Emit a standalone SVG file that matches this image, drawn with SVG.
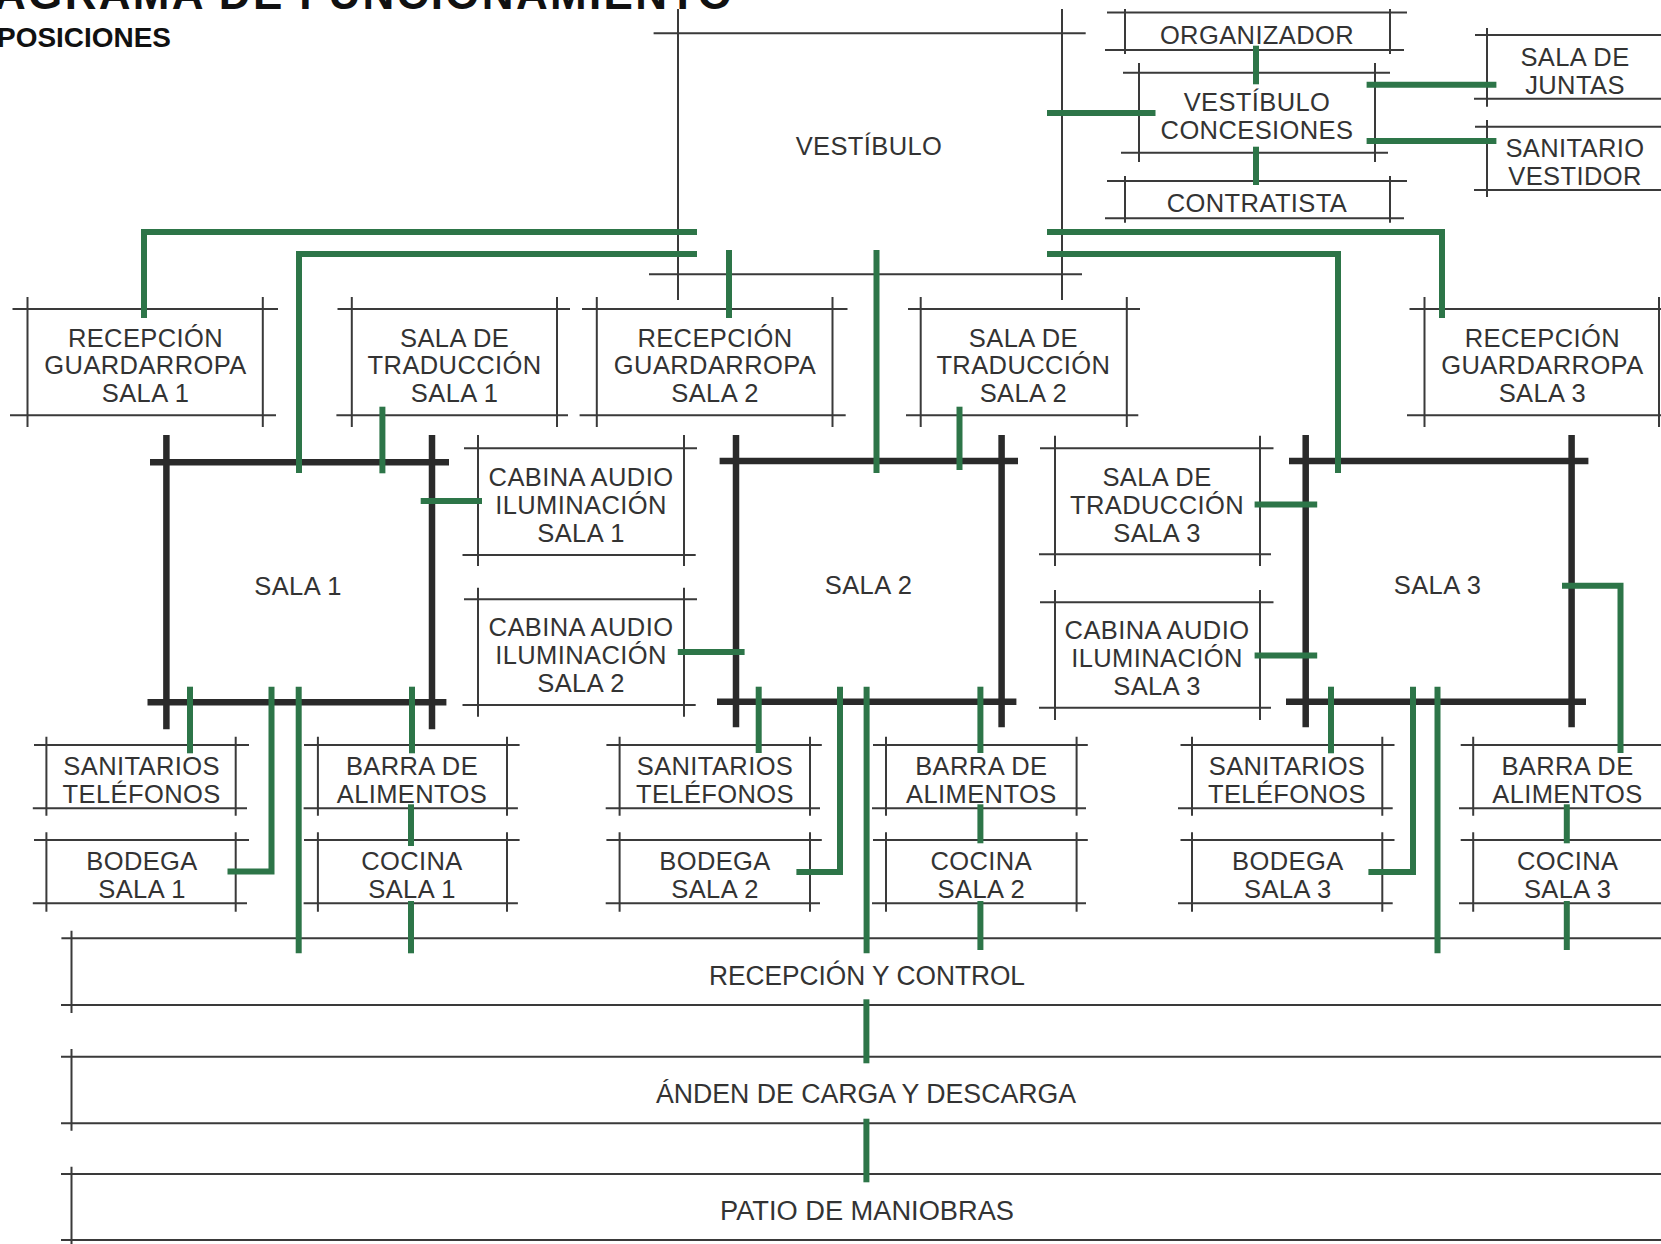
<svg xmlns="http://www.w3.org/2000/svg" width="1661" height="1244" viewBox="0 0 1661 1244">
<style>
.bg{fill:#ffffff}
.thin{stroke:#3a3a3a;stroke-width:2;fill:none}
.wall{stroke:#2a2a2a;stroke-width:6.5;fill:none}
.conn{stroke:#2d7548;stroke-width:6;fill:none;stroke-linecap:butt;stroke-linejoin:miter}
.lbl{font-family:"Liberation Sans",Arial,sans-serif;font-size:25.5px;letter-spacing:0.4px;fill:#333333;text-anchor:middle}
.band{font-family:"Liberation Sans",Arial,sans-serif;font-size:27px;fill:#333333}
.title{font-family:"Liberation Sans",Arial,sans-serif;font-weight:bold;fill:#111111}
</style>
<rect class="bg" x="0" y="0" width="1661" height="1244"/>

<g id="title">
<text class="title" x="-6" y="9" font-size="44" textLength="738" lengthAdjust="spacing">AGRAMA DE FUNCIONAMIENTO</text>
<text class="title" x="-3" y="47" font-size="28" textLength="174" lengthAdjust="spacingAndGlyphs">POSICIONES</text>
</g>

<g id="vestibulo">
<path class="thin" d="M653.6,33.3H1085.7M649,274.3H1082M678,9V300M1062,9V300"/>
<text class="lbl" x="869" y="155">VESTÍBULO</text>
</g>

<g id="organizador">
<path class="thin" d="M1107,12.5H1407M1105,50H1404M1125,9V54M1390,9V54"/>
<text class="lbl" x="1257" y="44">ORGANIZADOR</text>
</g>

<g id="vestibulo-concesiones">
<path class="thin" d="M1123,72.7H1390M1121,152.7H1388M1139,63V162M1375,63V162"/>
<text class="lbl" x="1257" y="111">VESTÍBULO</text>
<text class="lbl" x="1257" y="139">CONCESIONES</text>
</g>

<g id="contratista">
<path class="thin" d="M1107,181H1407M1105,218.3H1404M1125,176V222.7M1390,176V222.7"/>
<text class="lbl" x="1257" y="212.3">CONTRATISTA</text>
</g>

<g id="sala-juntas">
<path class="thin" d="M1475,35H1661M1474,98.7H1661M1487,28V106.7"/>
<text class="lbl" x="1575" y="65.5">SALA DE</text>
<text class="lbl" x="1575" y="93.5">JUNTAS</text>
</g>

<g id="sanitario-vestidor">
<path class="thin" d="M1475,126.7H1661M1474,190H1661M1487,120V197"/>
<text class="lbl" x="1575" y="156.7">SANITARIO</text>
<text class="lbl" x="1575" y="185">VESTIDOR</text>
</g>

<g id="recepcion-sala1">
<path class="thin" d="M12.5,309H278M10,415.3H276M27.5,297V427M262.8,297V427"/>
<text class="lbl" x="145.5" y="346.5">RECEPCIÓN</text>
<text class="lbl" x="145.5" y="374.3">GUARDARROPA</text>
<text class="lbl" x="145.5" y="402">SALA 1</text>
</g>

<g id="traduccion-sala1">
<path class="thin" d="M337.5,309H570M336.4,415.3H568M351.8,297V427M557,297V427"/>
<text class="lbl" x="454.6" y="346.5">SALA DE</text>
<text class="lbl" x="454.6" y="374.3">TRADUCCIÓN</text>
<text class="lbl" x="454.6" y="402">SALA 1</text>
</g>

<g id="recepcion-sala2">
<path class="thin" d="M582,309H847.5M579.6,415.3H845.7M596.8,297V427M832.5,297V427"/>
<text class="lbl" x="715" y="346.5">RECEPCIÓN</text>
<text class="lbl" x="715" y="374.3">GUARDARROPA</text>
<text class="lbl" x="715" y="402">SALA 2</text>
</g>

<g id="traduccion-sala2">
<path class="thin" d="M908,309H1140M906,415.3H1138.3M920.7,297V427M1126.8,297V427"/>
<text class="lbl" x="1023.4" y="346.5">SALA DE</text>
<text class="lbl" x="1023.4" y="374.3">TRADUCCIÓN</text>
<text class="lbl" x="1023.4" y="402">SALA 2</text>
</g>

<g id="recepcion-sala3">
<path class="thin" d="M1409.5,309H1661M1407,415.3H1661M1424.5,297V427M1659,297V427"/>
<text class="lbl" x="1542.4" y="346.5">RECEPCIÓN</text>
<text class="lbl" x="1542.4" y="374.3">GUARDARROPA</text>
<text class="lbl" x="1542.4" y="402">SALA 3</text>
</g>

<g id="cabina-sala1">
<path class="thin" d="M464,448.3H697M462.5,555H695.7M478,435V566M684,435V566"/>
<text class="lbl" x="581" y="486" letter-spacing="0">CABINA AUDIO</text>
<text class="lbl" x="581" y="513.8">ILUMINACIÓN</text>
<text class="lbl" x="581" y="541.5">SALA 1</text>
</g>

<g id="cabina-sala2">
<path class="thin" d="M464,599.3H697M462.5,705H695.7M478,587.7V716.7M684,587.7V716.7"/>
<text class="lbl" x="581" y="636" letter-spacing="0">CABINA AUDIO</text>
<text class="lbl" x="581" y="663.8">ILUMINACIÓN</text>
<text class="lbl" x="581" y="691.5">SALA 2</text>
</g>

<g id="traduccion-sala3">
<path class="thin" d="M1040,448.3H1273.5M1039,554.3H1271M1055,435.7V566M1260,435.7V566"/>
<text class="lbl" x="1157" y="486">SALA DE</text>
<text class="lbl" x="1157" y="513.8">TRADUCCIÓN</text>
<text class="lbl" x="1157" y="541.5">SALA 3</text>
</g>

<g id="cabina-sala3">
<path class="thin" d="M1040,602.3H1273.5M1039,707.7H1271M1055,590V720M1260,590V720"/>
<text class="lbl" x="1157" y="639.3" letter-spacing="0">CABINA AUDIO</text>
<text class="lbl" x="1157" y="667">ILUMINACIÓN</text>
<text class="lbl" x="1157" y="694.7">SALA 3</text>
</g>

<g id="sala1">
<path class="wall" d="M150,462.3H449M147.5,702.3H446.4M166.4,435V729.3M432,435V729.3"/>
<text class="lbl" x="298" y="595">SALA 1</text>
</g>

<g id="sala2">
<path class="wall" d="M719.6,461H1018M717,701.7H1016.4M736,435V727.3M1001.6,435V727.3"/>
<text class="lbl" x="868.5" y="594">SALA 2</text>
</g>

<g id="sala3">
<path class="wall" d="M1289,461H1588.4M1286,701.7H1586M1305.7,435V727.3M1571.6,435V727.3"/>
<text class="lbl" x="1437.5" y="594">SALA 3</text>
</g>

<g id="sanitarios-sala1">
<path class="thin" d="M34,745H249M32.8,808.3H247M46.4,736.7V815.7M235.7,736.7V815.7"/>
<text class="lbl" x="141.6" y="775">SANITARIOS</text>
<text class="lbl" x="141.6" y="802.7">TELÉFONOS</text>
</g>

<g id="bodega-sala1">
<path class="thin" d="M34,840H249M32.8,903.3H247M46.4,832.3V911.7M235.7,832.3V911.7"/>
<text class="lbl" x="142" y="870">BODEGA</text>
<text class="lbl" x="142" y="898">SALA 1</text>
</g>

<g id="barra-sala1">
<path class="thin" d="M304,745H519.6M303.6,808.3H517.9M317.9,736.7V815.7M507,736.7V815.7"/>
<text class="lbl" x="412" y="775">BARRA DE</text>
<text class="lbl" x="412" y="802.7">ALIMENTOS</text>
</g>

<g id="cocina-sala1">
<path class="thin" d="M304,840H519.6M303.6,903.3H517.9M317.9,832.3V911.7M507,832.3V911.7"/>
<text class="lbl" x="412" y="870">COCINA</text>
<text class="lbl" x="412" y="898">SALA 1</text>
</g>

<g id="sanitarios-sala2">
<path class="thin" d="M606.4,745H821.8M605.7,808.3H820M619.6,736.7V815.7M810,736.7V815.7"/>
<text class="lbl" x="715" y="775">SANITARIOS</text>
<text class="lbl" x="715" y="802.7">TELÉFONOS</text>
</g>

<g id="bodega-sala2">
<path class="thin" d="M606.4,840H821.8M605.7,903.3H820M619.6,832.3V911.7M810,832.3V911.7"/>
<text class="lbl" x="715" y="870">BODEGA</text>
<text class="lbl" x="715" y="898">SALA 2</text>
</g>

<g id="barra-sala2">
<path class="thin" d="M873,745H1087.8M872,808.3H1086M886,736.7V815.7M1076.6,736.7V815.7"/>
<text class="lbl" x="981.3" y="775">BARRA DE</text>
<text class="lbl" x="981.3" y="802.7">ALIMENTOS</text>
</g>

<g id="cocina-sala2">
<path class="thin" d="M873,840H1087.8M872,903.3H1086M886,832.3V911.7M1076.6,832.3V911.7"/>
<text class="lbl" x="981.3" y="870">COCINA</text>
<text class="lbl" x="981.3" y="898">SALA 2</text>
</g>

<g id="sanitarios-sala3">
<path class="thin" d="M1180.5,745H1394.5M1178,808.3H1392.7M1192,736.7V815.7M1382.3,736.7V815.7"/>
<text class="lbl" x="1287" y="775">SANITARIOS</text>
<text class="lbl" x="1287" y="802.7">TELÉFONOS</text>
</g>

<g id="bodega-sala3">
<path class="thin" d="M1180.5,840H1394.5M1178,903.3H1392.7M1192,832.3V911.7M1382.3,832.3V911.7"/>
<text class="lbl" x="1287.8" y="870">BODEGA</text>
<text class="lbl" x="1287.8" y="898">SALA 3</text>
</g>

<g id="barra-sala3">
<path class="thin" d="M1460.7,745H1661M1459,808.3H1661M1473.2,736.7V815.7"/>
<text class="lbl" x="1567.5" y="775">BARRA DE</text>
<text class="lbl" x="1567.5" y="802.7">ALIMENTOS</text>
</g>

<g id="cocina-sala3">
<path class="thin" d="M1460.7,840H1661M1459,903.3H1661M1473.2,832.3V911.7"/>
<text class="lbl" x="1567.7" y="870">COCINA</text>
<text class="lbl" x="1567.7" y="898">SALA 3</text>
</g>

<g id="recepcion-control">
<path class="thin" d="M61.4,938.3H1661M61,1005H1661M71.5,930.7V1013"/>
<text class="band" x="709" y="985" textLength="316" lengthAdjust="spacingAndGlyphs">RECEPCIÓN Y CONTROL</text>
</g>

<g id="anden">
<path class="thin" d="M61,1056.7H1661M61,1123.3H1661M71.5,1049V1130.7"/>
<text class="band" x="656" y="1103" textLength="420" lengthAdjust="spacingAndGlyphs">ÁNDEN DE CARGA Y DESCARGA</text>
</g>

<g id="patio">
<path class="thin" d="M61,1174H1661M61,1240H1661M71.5,1166.7V1244"/>
<text class="band" x="720" y="1220" textLength="294" lengthAdjust="spacingAndGlyphs">PATIO DE MANIOBRAS</text>
</g>

<g id="connectors">
<path class="conn" d="M697,232H144V318"/>
<path class="conn" d="M697,254H299V473"/>
<path class="conn" d="M729,250V318"/>
<path class="conn" d="M876.5,250V473"/>
<path class="conn" d="M1047,113H1155.5"/>
<path class="conn" d="M1047,232H1442V318"/>
<path class="conn" d="M1047,254H1338V473"/>
<path class="conn" d="M1256,45.7V84.3"/>
<path class="conn" d="M1256,146.7V185"/>
<path class="conn" d="M1366.6,84.7H1496.4"/>
<path class="conn" d="M1366.6,141H1496.4"/>
<path class="conn" d="M382.4,406.7V473.3"/>
<path class="conn" d="M959.5,406.7V470"/>
<path class="conn" d="M420.7,501H482"/>
<path class="conn" d="M677.8,652H744.6"/>
<path class="conn" d="M1254.6,504.5H1317.2"/>
<path class="conn" d="M1254.6,655.5H1317.2"/>
<path class="conn" d="M1562,585.7H1620.5V753"/>
<path class="conn" d="M190,686.7V753.3"/>
<path class="conn" d="M271.5,686.7V871.5H227.5"/>
<path class="conn" d="M298.7,686.7V953.3"/>
<path class="conn" d="M412,686.7V753.3"/>
<path class="conn" d="M411,804.3V846"/>
<path class="conn" d="M411,901V953.3"/>
<path class="conn" d="M758.7,686.7V753"/>
<path class="conn" d="M840,686.7V872H796.4"/>
<path class="conn" d="M866.6,686.7V953.3"/>
<path class="conn" d="M980.4,686.7V753"/>
<path class="conn" d="M980.4,804.3V843.3"/>
<path class="conn" d="M980.4,901V950"/>
<path class="conn" d="M1331,686.7V753.3"/>
<path class="conn" d="M1413,686.7V872H1368.4"/>
<path class="conn" d="M1437.5,686.7V953.3"/>
<path class="conn" d="M1566.8,804.3V843.3"/>
<path class="conn" d="M1566.8,901V950"/>
<path class="conn" d="M866.4,999.3V1063.3"/>
<path class="conn" d="M866.4,1118.7V1182.3"/>
</g>
</svg>
